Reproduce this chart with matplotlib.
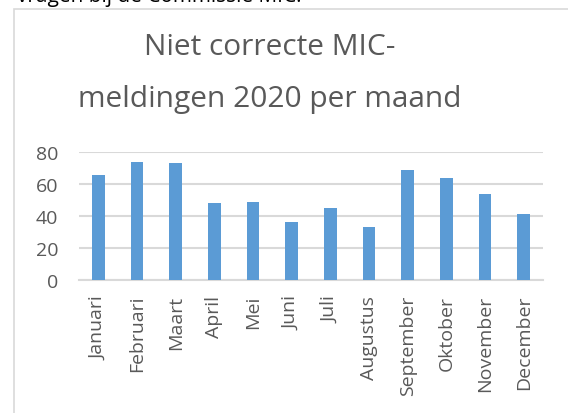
import matplotlib
matplotlib.use('Agg')
from matplotlib import pyplot as plt
from matplotlib.patches import Rectangle

# months and counts
months = ["Januari", "Februari", "Maart", "April", "Mei", "Juni",
          "Juli", "Augustus", "September", "Oktober", "November", "December"]
counts = [66, 74, 73, 48, 49, 36, 45, 33, 69, 64, 54, 41]
yticks = [0, 20, 40, 60, 80]

title_lines = ["Niet correcte MIC-", "meldingen 2020 per maand"]
page_text = "vragen bij de Commissie MIC."

W, H = 568, 414
plt.rcParams['font.family'] = ['Open Sans', 'DejaVu Sans']
grey = '#595959'

fig = plt.figure(figsize=(W / 100, H / 100), dpi=100)

# chart frame, runs off the right and bottom of the crop
fig.add_artist(Rectangle((14 / W, -0.1), 1.2, (H - 9.5) / H + 0.1,
                         transform=fig.transFigure, fill=False,
                         edgecolor='#d9d9d9', linewidth=1.2))

# cut-off line of page text at the very top
fig.text(17 / W, 1 - 2 / H, page_text, fontsize=15, color='black',
         ha='left', va='baseline')

# two-line title
fig.text(270 / W, 1 - 55 / H, title_lines[0], fontsize=21.5, color=grey,
         ha='center', va='baseline')
fig.text(270 / W, 1 - 107 / H, title_lines[1], fontsize=21.5, color=grey,
         ha='center', va='baseline')

ax = fig.add_axes([79 / W, (H - 280.7) / H, 464 / W, 127.4 / H])
x = range(len(months))
ax.bar(x, counts, width=0.32, color='#5b9bd5', zorder=3)

ax.set_xlim(-0.5, len(months) - 0.5)
ax.set_ylim(0, 80)
ax.set_yticks(yticks)
ax.set_xticks(list(x))
ax.set_xticklabels(months, rotation=90)
ax.grid(axis='y', color='#d9d9d9', linewidth=1.5, zorder=0)
for s in ['top', 'right', 'left']:
    ax.spines[s].set_visible(False)
ax.spines['bottom'].set_color('#d9d9d9')
ax.spines['bottom'].set_linewidth(1.5)
ax.tick_params(axis='y', length=0, pad=15, labelsize=14, labelcolor=grey)
ax.tick_params(axis='x', length=0, pad=11, labelsize=14, labelcolor=grey)

fig.savefig("out.png", dpi=100)
